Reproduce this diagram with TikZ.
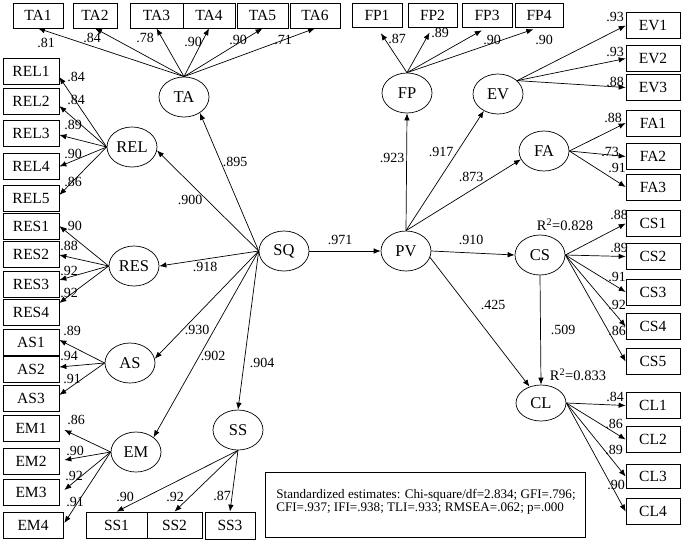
\documentclass[tikz,border=0pt]{standalone}
\usepackage{fontspec}
\setmainfont{Liberation Serif}
\usetikzlibrary{arrows.meta,shapes.geometric}
\begin{document}
\begin{tikzpicture}[x=1pt,y=-1pt,line width=0.7pt,
  ind/.style={draw, rectangle, minimum width=56pt, minimum height=26pt, inner sep=0pt, font=\fontsize{15.5}{16}\selectfont},
  tbox/.style={ind, minimum width=50pt, minimum height=25pt},
  rbox/.style={ind, minimum width=54pt, minimum height=26pt},
  lat/.style={draw, ellipse, minimum width=50pt, minimum height=40pt, inner sep=0pt, font=\fontsize{16.5}{17}\selectfont},
  coef/.style={inner sep=0pt, font=\fontsize{14}{15}\selectfont},
  arr/.style={-{Latex[length=7pt,width=5.5pt]}}
]
\useasboundingbox (0,0) rectangle (684,542);

% ---------- top indicator boxes ----------
\node[tbox] (TA1) at (38,15.5) {TA1};
\node[tbox, minimum width=44pt] (TA2) at (95,15.5) {TA2};
\node[tbox, minimum width=53pt] (TA3) at (156.5,15.5) {TA3};
\node[tbox, minimum width=52pt] (TA4) at (209,15.5) {TA4};
\node[tbox, minimum width=51pt] (TA5) at (262.5,15.5) {TA5};
\node[tbox] (TA6) at (315,15.5) {TA6};

\node[tbox, minimum height=24pt] (FP1) at (377,15) {FP1};
\node[tbox, minimum height=24pt, minimum width=49pt] (FP2) at (432.5,15) {FP2};
\node[tbox, minimum height=24pt] (FP3) at (487,15) {FP3};
\node[tbox, minimum height=24pt, minimum width=48pt] (FP4) at (539,15) {FP4};

% ---------- left indicator boxes ----------
\node[ind] (REL1) at (31,71) {REL1};
\node[ind] (REL2) at (31,101.5) {REL2};
\node[ind] (REL3) at (31,133) {REL3};
\node[ind] (REL4) at (31,166.5) {REL4};
\node[ind] (REL5) at (31,198.5) {REL5};
\node[ind] (RES1) at (31,226) {RES1};
\node[ind] (RES2) at (31,254) {RES2};
\node[ind] (RES3) at (31,284) {RES3};
\node[ind] (RES4) at (31,312) {RES4};
\node[ind] (AS1) at (31,342) {AS1};
\node[ind] (AS2) at (31,369) {AS2};
\node[ind] (AS3) at (31,398.5) {AS3};
\node[ind] (EM1) at (31,428.5) {EM1};
\node[ind] (EM2) at (31,461.5) {EM2};
\node[ind] (EM3) at (31,492) {EM3};
\node[ind, minimum width=60pt] (EM4) at (33,525) {EM4};

% ---------- bottom boxes ----------
\node[ind, minimum width=61pt] (SS1) at (116.5,525) {SS1};
\node[ind, minimum width=55pt] (SS2) at (174.5,525) {SS2};
\node[ind, minimum width=50pt, minimum height=27pt] (SS3) at (230,525.5) {SS3};

% ---------- right boxes ----------
\node[rbox] (EV1) at (653,25.5) {EV1};
\node[rbox] (EV2) at (653,58.5) {EV2};
\node[rbox] (EV3) at (653,87.5) {EV3};
\node[rbox] (FA1) at (653,123) {FA1};
\node[rbox] (FA2) at (653,156.5) {FA2};
\node[rbox] (FA3) at (653,187) {FA3};
\node[rbox] (CS1) at (653,223.5) {CS1};
\node[rbox] (CS2) at (653,256.5) {CS2};
\node[rbox] (CS3) at (653,292) {CS3};
\node[rbox] (CS4) at (653,326.5) {CS4};
\node[rbox] (CS5) at (653,361.5) {CS5};
\node[rbox] (CL1) at (653,405.5) {CL1};
\node[rbox] (CL2) at (653,439.5) {CL2};
\node[rbox, minimum height=24pt] (CL3) at (653,476.5) {CL3};
\node[rbox] (CL4) at (653,511.5) {CL4};

% ---------- latent variables ----------
\node[lat] (TA) at (184,97) {TA};
\node[lat] (REL) at (132,147) {REL};
\node[lat] (RES) at (134,266) {RES};
\node[lat] (AS) at (130,363) {AS};
\node[lat] (EM) at (136,452) {EM};
\node[lat] (SS) at (238,430) {SS};
\node[lat] (SQ) at (284,251) {SQ};
\node[lat] (PV) at (406,251) {PV};
\node[lat] (FP) at (407,93) {FP};
\node[lat] (EV) at (498,94) {EV};
\node[lat] (FA) at (544,151) {FA};
\node[lat] (CS) at (540,255) {CS};
\node[lat, minimum height=36pt] (CL) at (541,403) {CL};

% ---------- structural paths ----------
\draw[arr] (SQ.west) -- (TA.-45);
\draw[arr] (SQ.west) -- (REL.-8);
\draw[arr] (SQ.west) -- (RES.east);
\draw[arr] (SQ.west) -- (AS.10);
\draw[arr] (SQ.west) -- (EM.40);
\draw[arr] (SQ.west) -- (SS.north);
\draw[arr] (SQ.east) -- (PV.west);
\draw[arr] (PV.north) -- (FP.south);
\draw[arr] (PV.north) -- (EV.-130);
\draw[arr] (PV.north) -- (FA.200);
\draw[arr] (PV.east) -- (CS.west);
\draw[arr] (PV.-15) -- (CL.125);
\draw[arr] (CS.south) -- (CL.north);

\node[coef] at (235,162) {.895};
\node[coef] at (190,200) {.900};
\node[coef] at (205,267) {.918};
\node[coef] at (197,330) {.930};
\node[coef] at (213,356) {.902};
\node[coef] at (262,363) {.904};
\node[coef] at (340,240) {.971};
\node[coef] at (392,158) {.923};
\node[coef] at (441,152) {.917};
\node[coef] at (471,177) {.873};
\node[coef] at (471,240) {.910};
\node[coef] at (493,305) {.425};
\node[coef] at (563,330) {.509};
\node[coef, font=\fontsize{14.5}{15}\selectfont] at (565,225) {R\textsuperscript{2}=0.828};
\node[coef, font=\fontsize{14.5}{15}\selectfont] at (578,375) {R\textsuperscript{2}=0.833};

% ---------- measurement paths: TA ----------
\draw[arr] (TA.north) -- (TA1.south);
\draw[arr] (TA.north) -- (TA2.south);
\draw[arr] (TA.north) -- (TA3.south);
\draw[arr] (TA.north) -- (TA4.south);
\draw[arr] (TA.north) -- (TA5.south);
\draw[arr] (TA.north) -- (TA6.south);
\node[coef] at (46,43) {.81};
\node[coef] at (92,38) {.84};
\node[coef] at (145,38) {.78};
\node[coef] at (193,42) {.90};
\node[coef] at (238,40) {.90};
\node[coef] at (283,40) {.71};

% FP
\draw[arr, shorten >=7pt] (FP.north) -- (FP1.south);
\draw[arr, shorten >=6pt] (FP.north) -- (FP2.south);
\draw[arr, shorten >=6pt] (FP.north) -- (FP3.south);
\draw[arr, shorten >=6pt] (FP.north) -- (FP4.south);
\node[coef] at (397,39) {.87};
\node[coef] at (440,33) {.89};
\node[coef] at (492,40) {.90};
\node[coef] at (544,40) {.90};

% EV
\draw[arr] (EV.35) -- (EV1.west);
\draw[arr] (EV.35) -- (EV2.west);
\draw[arr] (EV.35) -- (EV3.west);
\node[coef] at (615,17) {.93};
\node[coef] at (615,52) {.93};
\node[coef] at (615,82) {.88};

% FA
\draw[arr] (FA.east) -- (FA1.west);
\draw[arr] (FA.east) -- (FA2.west);
\draw[arr] (FA.east) -- (FA3.west);
\node[coef] at (613,118) {.88};
\node[coef] at (610,152) {.73};
\node[coef] at (617,168) {.91};

% CS
\draw[arr] (CS.east) -- (CS1.west);
\draw[arr] (CS.east) -- (CS2.west);
\draw[arr] (CS.east) -- (CS3.west);
\draw[arr] (CS.east) -- (CS4.west);
\draw[arr] (CS.east) -- (CS5.west);
\node[coef] at (619,215) {.88};
\node[coef] at (619,248) {.89};
\node[coef] at (617,277) {.91};
\node[coef] at (617,305) {.92};
\node[coef] at (617,331) {.86};

% CL
\draw[arr] (CL.east) -- (CL1.west);
\draw[arr] (CL.east) -- (CL2.west);
\draw[arr] (CL.east) -- (CL3.west);
\draw[arr] (CL.east) -- (CL4.west);
\node[coef] at (615,397) {.84};
\node[coef] at (614,424) {.86};
\node[coef] at (614,450) {.89};
\node[coef] at (616,485) {.90};

% REL
\draw[arr] (REL.west) -- ([yshift=-6pt]REL1.east);
\draw[arr] (REL.west) -- ([yshift=-4.5pt]REL2.east);
\draw[arr] (REL.west) -- ([yshift=-2pt]REL3.east);
\draw[arr] (REL.west) -- (REL4.east);
\draw[arr] (REL.west) -- ([yshift=3.5pt]REL5.east);
\node[coef] at (76,77) {.84};
\node[coef] at (76,100) {.84};
\node[coef] at (73,125) {.89};
\node[coef] at (73,154) {.90};
\node[coef] at (73,182) {.86};

% RES
\draw[arr] (RES.west) -- (RES1.east);
\draw[arr] (RES.west) -- ([yshift=-1pt]RES2.east);
\draw[arr] (RES.west) -- ([yshift=4pt]RES3.east);
\draw[arr] (RES.west) -- ([yshift=9pt]RES4.east);
\node[coef] at (73,226) {.90};
\node[coef] at (69,246) {.88};
\node[coef] at (69,271) {.92};
\node[coef] at (69,293) {.92};

% AS
\draw[arr] (AS.west) -- ([yshift=2pt]AS1.east);
\draw[arr] (AS.west) -- ([yshift=2pt]AS2.east);
\draw[arr] (AS.west) -- ([yshift=3.5pt]AS3.east);
\node[coef] at (72,331) {.89};
\node[coef] at (69,356) {.94};
\node[coef] at (72,379) {.91};

% EM
\draw[arr] (EM.west) -- ([yshift=-1.5pt,xshift=5pt]EM1.east);
\draw[arr] (EM.west) -- ([yshift=1.5pt,xshift=5pt]EM2.east);
\draw[arr] (EM.west) -- ([yshift=2pt,xshift=5pt]EM3.east);
\draw[arr] (EM.west) -- ([yshift=2pt,xshift=1pt]EM4.east);
\node[coef] at (76,420) {.86};
\node[coef] at (75,451) {.90};
\node[coef] at (74,476) {.92};
\node[coef] at (75,502) {.91};

% SS
\draw[arr] (SS.south) -- (SS1.north);
\draw[arr] (SS.south) -- (SS2.north);
\draw[arr] (SS.south) -- (SS3.north);
\node[coef] at (125,497) {.90};
\node[coef] at (175,497) {.92};
\node[coef] at (222,496) {.87};

% ---------- legend ----------
\node[draw, minimum width=320pt, minimum height=65pt, inner sep=0pt] (legend) at (425,504.5) {};
\node[align=left, inner sep=0pt, font=\fontsize{13.1}{12.8}\selectfont] (legendtext) at (426,501.5)
  {Standardized estimates: Chi-square/df=2.834; GFI=.796;\\
   CFI=.937; IFI=.938; TLI=.933; RMSEA=.062; p=.000};
\end{tikzpicture}
\end{document}
